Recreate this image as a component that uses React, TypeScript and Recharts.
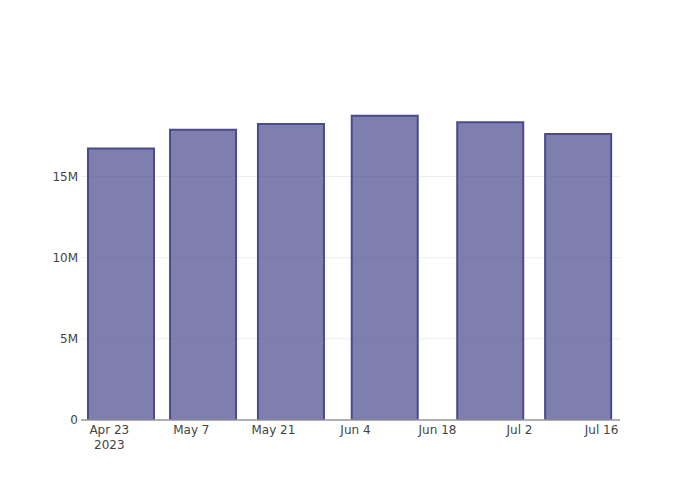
import React from "react";
import {
  BarChart,
  Bar,
  XAxis,
  YAxis,
  CartesianGrid,
} from "recharts";

// bar dates (2023) and values
const barDates = ["2023-04-25", "2023-05-09", "2023-05-24", "2023-06-09", "2023-06-27", "2023-07-12"];
const barValues = [16730000, 17870000, 18230000, 18740000, 18340000, 17610000];

const tickDates = ["2023-04-23", "2023-05-07", "2023-05-21", "2023-06-04", "2023-06-18", "2023-07-02", "2023-07-16"];
const yTicks = [0, 5000000, 10000000, 15000000];
const yMax = 19710000;

const DAY = 24 * 3600 * 1000;
const toMs = (s: string) => Date.parse(s + "T00:00:00Z");

const data = barDates.map((d, i) => ({ t: toMs(d), value: barValues[i] }));
const xTicks = tickDates.map(toMs);
const xDomain = [toMs("2023-04-23") - 4.83 * DAY, toMs("2023-04-23") + 87.14 * DAY];

const MONTHS = ["Jan", "Feb", "Mar", "Apr", "May", "Jun", "Jul", "Aug", "Sep", "Oct", "Nov", "Dec"];
const FONT = "'DejaVu Sans', sans-serif";

function DateTick(props: any) {
  const { x, y, payload, index } = props;
  const d = new Date(payload.value);
  const label = `${MONTHS[d.getUTCMonth()]} ${d.getUTCDate()}`;
  return (
    <text x={x} y={y} textAnchor="middle" fill="#444" fontSize={12} fontFamily={FONT}>
      <tspan x={x} dy="0.71em">{label}</tspan>
      {index === 0 && (
        <tspan x={x} dy="1.3em">{d.getUTCFullYear()}</tspan>
      )}
    </text>
  );
}

const formatY = (v: number) => (v === 0 ? "0" : `${v / 1000000}M`);

// only grid lines at the y ticks (skip the top edge of the plot)
const gridLines = ({ offset }: any) =>
  yTicks.map((v) => offset.top + offset.height * (1 - v / yMax));

export default function App() {
  return (
    <div style={{ position: "absolute", left: 0, top: 0, width: 700, height: 500, background: "#fff" }}>
      <BarChart
        width={700}
        height={500}
        data={data}
        margin={{ top: 100, right: 80, bottom: 40, left: 0 }}
      >
        <CartesianGrid
          vertical={false}
          stroke="#eee"
          strokeWidth={1}
          horizontalCoordinatesGenerator={gridLines}
        />
        <XAxis
          dataKey="t"
          type="number"
          scale="linear"
          domain={xDomain}
          allowDataOverflow
          ticks={xTicks}
          interval={0}
          height={40}
          tickLine={false}
          tickSize={0}
          tickMargin={5}
          axisLine={{ stroke: "#999", strokeWidth: 1.5 }}
          tick={<DateTick />}
        />
        <YAxis
          type="number"
          domain={[0, yMax]}
          allowDataOverflow
          ticks={yTicks}
          width={81}
          axisLine={false}
          tickLine={false}
          tickSize={0}
          tickMargin={3}
          tickFormatter={formatY}
          tick={{ fill: "#444", fontSize: 12, fontFamily: FONT }}
        />
        <Bar
          dataKey="value"
          barSize={66}
          fill="#48488d"
          fillOpacity={0.7}
          stroke="#4a4a90"
          strokeWidth={2}
          isAnimationActive={false}
        />
      </BarChart>
    </div>
  );
}
